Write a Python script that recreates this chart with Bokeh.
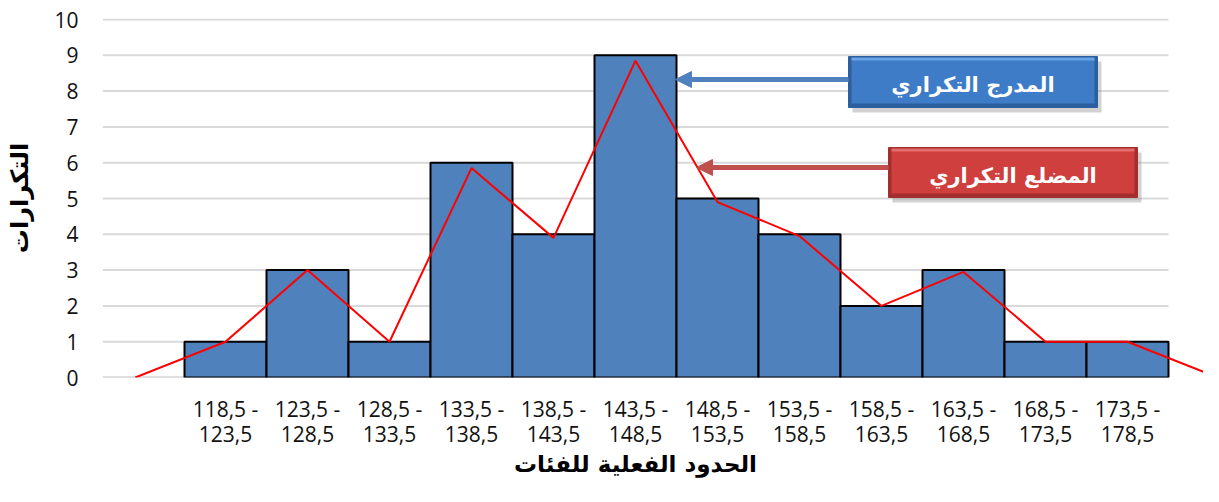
import numpy as np
from bokeh.plotting import figure
from bokeh.models import FixedTicker, Range1d, LinearAxis, Arrow, NormalHead
from bokeh.core.properties import value
from bokeh.embed import file_html
from bokeh.resources import INLINE

# ---- data ----
lower_bounds = [118.5, 123.5, 128.5, 133.5, 138.5, 143.5, 148.5, 153.5, 158.5, 163.5, 168.5, 173.5]
upper_bounds = [123.5, 128.5, 133.5, 138.5, 143.5, 148.5, 153.5, 158.5, 163.5, 168.5, 173.5, 178.5]
frequencies = [1, 3, 1, 6, 4, 9, 5, 4, 2, 3, 1, 1]
# frequency polygon (as drawn): start / end points on the axis plus class midpoints
poly_start_x, poly_end_x = 115.5, 181.5
poly_y = [0, 1, 3, 1, 5.85, 3.9, 8.85, 4.9, 3.95, 2.0, 2.95, 1.0, 1.0, 0]
y_ticks = [0, 1, 2, 3, 4, 5, 6, 7, 8, 9, 10]
x_title = "الحدود الفعلية للفئات"
y_title = "التكرارات"
hist_name = "المدرج التكراري"
poly_name = "المضلع التكراري"

mids = [(a + b) / 2 for a, b in zip(lower_bounds, upper_bounds)]
poly_x = [poly_start_x] + mids + [poly_end_x]
tick_text = {m: f"{a:.1f}".replace(".", ",") + " -\n" + f"{b:.1f}".replace(".", ",")
             for m, a, b in zip(mids, lower_bounds, upper_bounds)}
class_w = upper_bounds[0] - lower_bounds[0]
grid_x0 = lower_bounds[0] - class_w
grid_x1 = upper_bounds[-1]
title_x = (grid_x0 + grid_x1) / 2

# ---- layout (picture pixels; figure origin observed at (1, 1)) ----
ORG = 1
W, H = 1203, 486
FRAME_L, FRAME_R = 103, ORG + W
FRAME_T, FRAME_B = 19, 378
Y_TOP_PX = 20                      # picture y of the value 10
PX_PER_Y = (FRAME_B - Y_TOP_PX) / 10.0
PX_PER_X = 82 / class_w
X0 = grid_x0
X1 = X0 + (FRAME_R - FRAME_L) / PX_PER_X
Y0 = 0
Y1 = (FRAME_B - FRAME_T) / PX_PER_Y
ML, MR, MT, MB = FRAME_L - ORG, 0, FRAME_T - ORG, H - (FRAME_B - ORG)

p = figure(width=W, height=H, x_range=Range1d(X0, X1), y_range=Range1d(Y0, Y1),
           output_backend="svg", toolbar_location=None,
           min_border_left=ML, min_border_right=MR, min_border_top=MT, min_border_bottom=MB)
p.outline_line_color = None
p.xgrid.visible = False
p.ygrid.visible = False

def dx(px):
    return X0 + (px - FRAME_L) / PX_PER_X
def dy(py):
    return (FRAME_B - py) / PX_PER_Y

# grid lines
gy = [t for t in y_ticks if t > 0]
p.segment(x0=[grid_x0] * len(gy), x1=[grid_x1] * len(gy), y0=gy, y1=gy,
          line_color="#d9d9d9", line_width=2)
p.segment(x0=[grid_x0], x1=[grid_x1], y0=[0], y1=[0], line_color="#bfbfbf", line_width=2)

# histogram
p.quad(left=lower_bounds, right=upper_bounds, bottom=0, top=frequencies,
       fill_color="#4f81bd", line_color="black", line_width=2)
# polygon
p.line(poly_x, poly_y, line_color="#ff0000", line_width=2)

# callout boxes
def callout(x0, x1, ytop, ybot, main, dark, light, label, tip_px, arrow_y, arrow_col):
    p.add_layout(Arrow(end=NormalHead(size=16, fill_color=arrow_col, line_color=arrow_col),
                       x_start=dx(x0), y_start=dy(arrow_y), x_end=dx(tip_px), y_end=dy(arrow_y),
                       line_color=arrow_col, line_width=5))
    p.quad(left=[dx(x0 + 4)], right=[dx(x1 + 4)], top=[dy(ytop + 5)], bottom=[dy(ybot + 5)],
           fill_color="#7f7f7f", fill_alpha=0.35, line_color=None)
    p.quad(left=[dx(x0)], right=[dx(x1)], top=[dy(ytop)], bottom=[dy(ybot)],
           fill_color=dark, line_color=dark, line_width=1)
    p.quad(left=[dx(x0 + 3)], right=[dx(x1 - 3)], top=[dy(ytop + 3)], bottom=[dy(ybot - 4)],
           fill_color=main, line_color=None)
    p.quad(left=[dx(x0 + 3)], right=[dx(x1 - 3)], top=[dy(ytop + 1)], bottom=[dy(ytop + 4)],
           fill_color=light, line_color=None)
    p.text(x=[dx((x0 + x1) / 2)], y=[dy((ytop + ybot) / 2 + 3)], text=[label],
           text_font=value("DejaVu Sans"), text_font_style="bold", text_font_size="21px",
           text_color="white", text_align="center", text_baseline="middle")

callout(849, 1098, 57, 108, "#3e7cc8", "#2d5f9f", "#6aa3e6", hist_name, 676, 80, "#4f81bd")
callout(889, 1138, 148, 198, "#cf3f3d", "#a22f2d", "#e26d6b", poly_name, 697, 168, "#c0504d")

def plain(ax):
    ax.axis_line_color = None
    ax.major_tick_line_color = None
    ax.minor_tick_line_color = None
    ax.major_tick_out = 0
    ax.major_tick_in = 0
    ax.minor_tick_out = 0
    ax.minor_tick_in = 0

# axes
yax = p.yaxis[0]
plain(yax)
yax.ticker = FixedTicker(ticks=y_ticks)
yax.major_label_standoff = 24
yax.major_label_text_font = "Open Sans"
yax.major_label_text_font_size = "21px"
yax.major_label_text_color = "#111111"
yax.axis_label = y_title
yax.axis_label_text_font = "DejaVu Sans"
yax.axis_label_text_font_style = "bold"
yax.axis_label_text_font_size = "24px"
yax.axis_label_text_color = "black"
yax.axis_label_standoff = 17

xax = p.xaxis[0]
plain(xax)
xax.ticker = FixedTicker(ticks=mids)
xax.major_label_overrides = tick_text
xax.major_label_standoff = 17
xax.major_label_text_font = "Open Sans"
xax.major_label_text_font_size = "21px"
xax.major_label_text_line_height = 0.9
xax.major_label_text_color = "#111111"

# x title as a second axis below, labelled at the centre of the class range
title_axis = LinearAxis(ticker=FixedTicker(ticks=[title_x]),
                        major_label_overrides={title_x: x_title})
plain(title_axis)
title_axis.major_label_standoff = 0
title_axis.major_label_text_font = "DejaVu Sans"
title_axis.major_label_text_font_style = "bold"
title_axis.major_label_text_font_size = "23px"
title_axis.major_label_text_color = "black"
p.add_layout(title_axis, "below")

open("out.html", "w").write(file_html(p, INLINE))
